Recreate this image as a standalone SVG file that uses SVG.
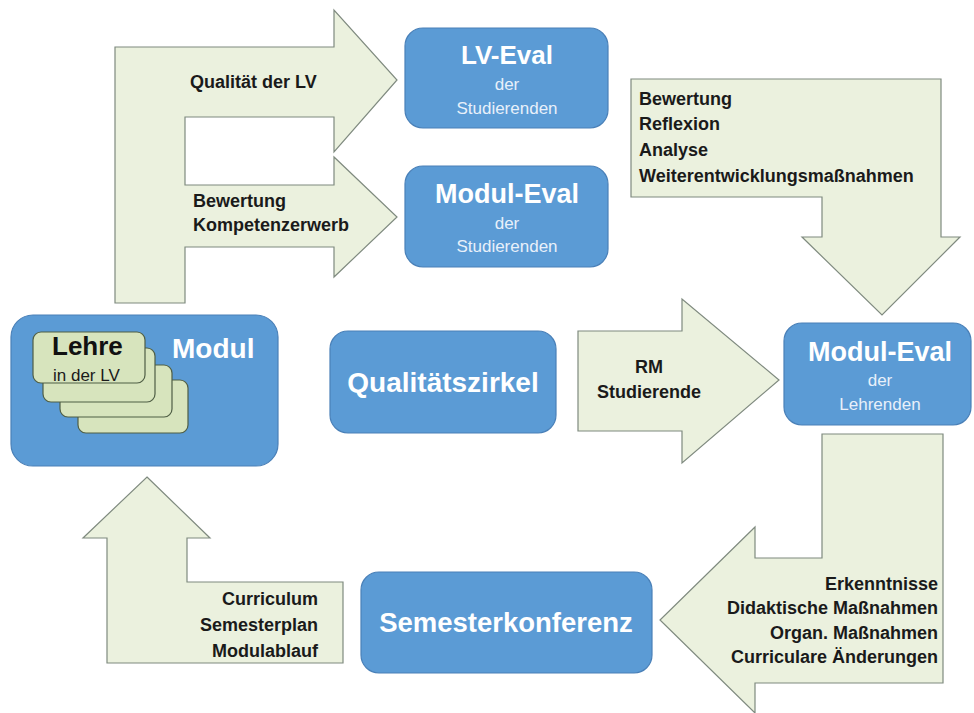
<svg xmlns="http://www.w3.org/2000/svg" width="974" height="713" viewBox="0 0 974 713">
<style>
.box{fill:#5b9bd5;stroke:#4a80b8;stroke-width:1.2}
.arrow{fill:#ebf1de;stroke:#7f8a7f;stroke-width:1.2}
.card{fill:#d7e4bd;stroke:#4f5e45;stroke-width:1.2}
.t{font-family:"Liberation Sans",Arial,sans-serif}
.big{font-weight:bold;fill:#ffffff;text-anchor:middle}
.sub{fill:#e8f0fa;font-size:17px;text-anchor:middle}
.lbl{font-weight:bold;font-size:18px;fill:#1a1a1a}
</style>
<rect width="974" height="713" fill="#ffffff"/>
<g id="connectors">
  <g id="arrow-top">
    <polygon class="arrow" points="115,303 115,47 334,47 334,10 397,80 334,152 334,117 185,117 185,185 334,185 334,157 397,217 334,277 334,247 185,247 185,303"/>
    <text class="t lbl" x="190" y="88">Qualität der LV</text>
    <text class="t lbl" x="193" y="207">Bewertung</text>
    <text class="t lbl" x="193" y="231">Kompetenzerwerb</text>
  </g>
  <g id="arrow-bewertung">
    <polygon class="arrow" points="631,79 941,79 941,237 960,237 882,315 802,237 822,237 822,197 631,197"/>
    <text class="t lbl" x="639" y="105">Bewertung</text>
    <text class="t lbl" x="639" y="130">Reflexion</text>
    <text class="t lbl" x="639" y="156">Analyse</text>
    <text class="t lbl" x="639" y="182">Weiterentwicklungsmaßnahmen</text>
  </g>
  <g id="arrow-rm">
    <polygon class="arrow" points="578,331 682,331 682,299 779,380 682,463 682,431 578,431"/>
    <text class="t lbl" x="649" y="373" text-anchor="middle">RM</text>
    <text class="t lbl" x="649" y="398" text-anchor="middle">Studierende</text>
  </g>
  <g id="arrow-erkenntnisse">
    <polygon class="arrow" points="822,434 943,434 943,683 755,683 755,713 660,620 755,527 755,558 822,558"/>
    <g text-anchor="end">
      <text class="t lbl" x="938" y="590">Erkenntnisse</text>
      <text class="t lbl" x="938" y="614">Didaktische Maßnahmen</text>
      <text class="t lbl" x="938" y="639">Organ. Maßnahmen</text>
      <text class="t lbl" x="938" y="663">Curriculare Änderungen</text>
    </g>
  </g>
  <g id="arrow-curriculum">
    <polygon class="arrow" points="147,477 210,538 187,538 187,582 343,582 343,663 107,663 107,538 83,538"/>
    <g text-anchor="end">
      <text class="t lbl" x="318" y="605">Curriculum</text>
      <text class="t lbl" x="318" y="631">Semesterplan</text>
      <text class="t lbl" x="318" y="657">Modulablauf</text>
    </g>
  </g>
</g>
<g id="node-lv-eval">
  <rect class="box" x="405" y="28" width="203" height="100" rx="18"/>
  <text class="t big" x="507" y="64" font-size="26">LV-Eval</text>
  <text class="t sub" x="507" y="90">der</text>
  <text class="t sub" x="507" y="114">Studierenden</text>
</g>
<g id="node-modul-eval-studierende">
  <rect class="box" x="405" y="166" width="203" height="101" rx="18"/>
  <text class="t big" x="507" y="203" font-size="27">Modul-Eval</text>
  <text class="t sub" x="507" y="229">der</text>
  <text class="t sub" x="507" y="252">Studierenden</text>
</g>
<g id="node-modul">
  <rect class="box" x="11" y="315" width="267" height="151" rx="22"/>
  <rect class="card" x="78" y="380" width="110" height="53" rx="8"/>
  <rect class="card" x="60" y="365" width="112" height="52" rx="8"/>
  <rect class="card" x="43" y="348" width="112" height="54" rx="8"/>
  <rect class="card" x="33" y="332" width="112" height="51" rx="8"/>
  <text class="t" x="52" y="355" font-size="26" font-weight="bold" fill="#111111">Lehre</text>
  <text class="t" x="53" y="381" font-size="17" fill="#1a1a1a">in der LV</text>
  <text class="t" x="172" y="358" font-size="28" font-weight="bold" fill="#ffffff">Modul</text>
</g>
<g id="node-qualitaetszirkel">
  <rect class="box" x="330" y="331" width="226" height="102" rx="18"/>
  <text class="t big" x="443" y="392" font-size="28">Qualitätszirkel</text>
</g>
<g id="node-modul-eval-lehrende">
  <rect class="box" x="784" y="323" width="187" height="102" rx="18"/>
  <text class="t big" x="880" y="361" font-size="27">Modul-Eval</text>
  <text class="t sub" x="880" y="386">der</text>
  <text class="t sub" x="880" y="410">Lehrenden</text>
</g>
<g id="node-semesterkonferenz">
  <rect class="box" x="361" y="572" width="291" height="101" rx="18"/>
  <text class="t big" x="506" y="632" font-size="27.5">Semesterkonferenz</text>
</g>
</svg>
